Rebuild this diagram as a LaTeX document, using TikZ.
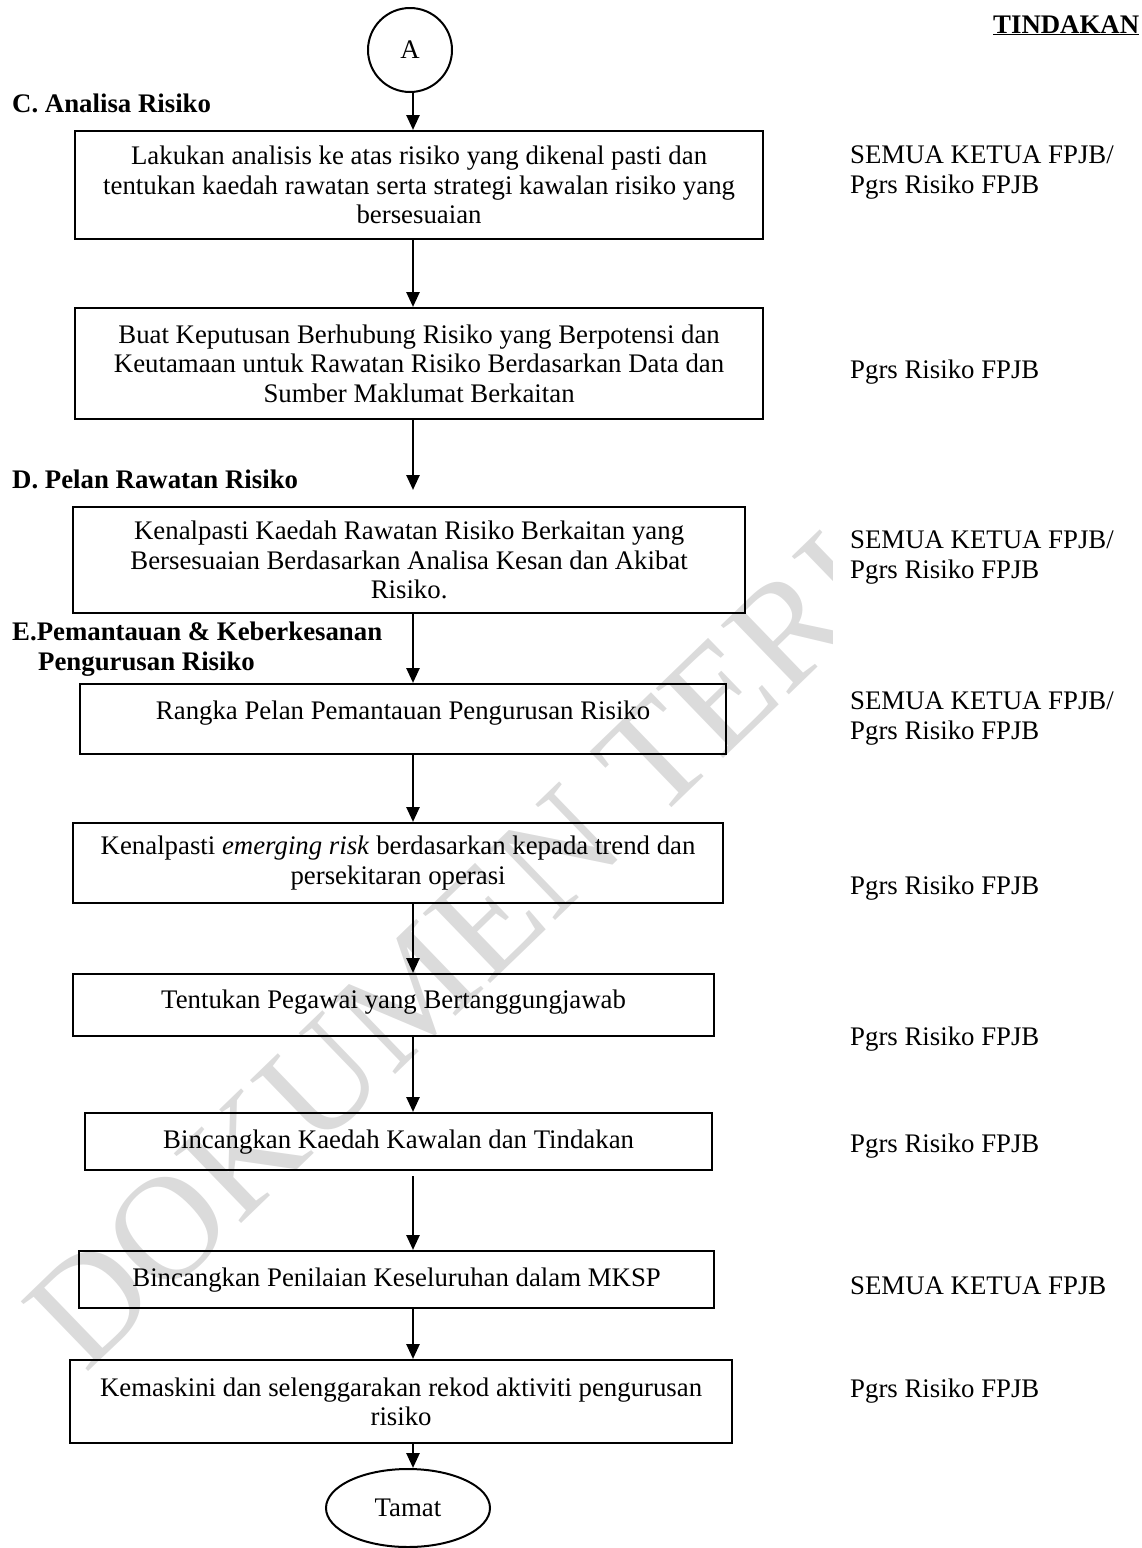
\documentclass[tikz,border=0pt]{standalone}
\usepackage{fontspec}
\setmainfont{Liberation Serif}
\usetikzlibrary{positioning,shapes.geometric,arrows.meta}

\begin{document}
\fontsize{26.8}{29.5}\selectfont
\begin{tikzpicture}[x=1pt, y=1pt,
  stepbox/.style={rectangle, draw, line width=2.2pt, anchor=north west, inner sep=0pt},
  steptext/.style={align=center, inner sep=0pt},
  flow/.style={-{Triangle[length=15pt,width=13pt]}, line width=2.6pt},
  heading/.style={anchor=base west, inner sep=0pt, font=\bfseries},
  actor/.style={anchor=base west, inner sep=0pt}]
\useasboundingbox (0,0) rectangle (1142,-1548);

% watermark
\begin{scope}
\clip (0,0) rectangle (832,-1548);
\node (mark) [anchor=base west, inner sep=0pt, rotate=44, text=black!14, font=\fontsize{148}{148}\selectfont] at (85,-1375) {DOKUMEN TERKAWAL};
\end{scope}

\node (tindakan) [heading] at (993,-33) {\underline{TINDAKAN}};

\node (circA) [circle, draw, line width=2pt, minimum size=84pt, inner sep=0pt] at (410,-50) {A};
\coordinate (axis) at (413,0);

\node (labC) [heading] at (12,-112) {C. Analisa Risiko};

\node (box1) [stepbox, minimum width=688pt, minimum height=108pt] at (74,-130) {};
\node (txt1) [steptext] at (box1.center) {Lakukan analisis ke atas risiko yang dikenal pasti dan\\tentukan kaedah rawatan serta strategi kawalan risiko yang\\bersesuaian};

\node (box2) [stepbox, minimum width=688pt, minimum height=111pt] at (74,-307) {};
\node (txt2) [steptext] at (box2.center) {Buat Keputusan Berhubung Risiko yang Berpotensi dan\\Keutamaan untuk Rawatan Risiko Berdasarkan Data dan\\Sumber Maklumat Berkaitan};

\node (labD) [heading] at (12,-488) {D. Pelan Rawatan Risiko};

\node (box3) [stepbox, minimum width=672pt, minimum height=106pt] at (72,-506) {};
\node (txt3) [steptext] at (box3.center) {Kenalpasti Kaedah Rawatan Risiko Berkaitan yang\\Bersesuaian Berdasarkan Analisa Kesan dan Akibat\\Risiko.};

\node (labE1) [heading] at (12,-640) {E.Pemantauan \& Keberkesanan};
\node (labE2) [heading] at (38,-670) {Pengurusan Risiko};

\node (box4) [stepbox, minimum width=646pt, minimum height=70pt] at (79,-683) {};
\node (txt4) [steptext, yshift=6pt] at (box4.center) {Rangka Pelan Pemantauan Pengurusan Risiko};

\node (box5) [stepbox, minimum width=650pt, minimum height=80pt] at (72,-822) {};
\node (txt5) [steptext] at (box5.center) {Kenalpasti \textit{emerging risk} berdasarkan kepada trend dan\\persekitaran operasi};

\node (box6) [stepbox, minimum width=641pt, minimum height=62pt] at (72,-973) {};
\node (txt6) [steptext, yshift=3pt] at (box6.center) {Tentukan Pegawai yang Bertanggungjawab};

\node (box7) [stepbox, minimum width=627pt, minimum height=57pt] at (84,-1112) {};
\node (txt7) [steptext] at (box7.center) {Bincangkan Kaedah Kawalan dan Tindakan};

\node (box8) [stepbox, minimum width=635pt, minimum height=57pt] at (78,-1250) {};
\node (txt8) [steptext] at (box8.center) {Bincangkan Penilaian Keseluruhan dalam MKSP};

\node (box9) [stepbox, minimum width=662pt, minimum height=83pt] at (69,-1359) {};
\node (txt9) [steptext] at (box9.center) {Kemaskini dan selenggarakan rekod aktiviti pengurusan\\risiko};

\node (tamat) [ellipse, draw, line width=2pt, minimum width=164pt, minimum height=78pt, inner sep=0pt] at (408,-1508) {Tamat};

% arrows
\draw[flow] (circA.south -| axis) -- (box1.north -| axis);
\draw[flow] (box1.south -| axis) -- (box2.north -| axis);
\draw[flow, shorten >=16pt] (box2.south -| axis) -- (box3.north -| axis);
\draw[flow] (box3.south -| axis) -- (box4.north -| axis);
\draw[flow] (box4.south -| axis) -- (box5.north -| axis);
\draw[flow] (box5.south -| axis) -- (box6.north -| axis);
\draw[flow] (box6.south -| axis) -- (box7.north -| axis);
\draw[flow, shorten <=5pt] (box7.south -| axis) -- (box8.north -| axis);
\draw[flow] (box8.south -| axis) -- (box9.north -| axis);
\draw[flow] (box9.south -| axis) -- (tamat.north -| axis);

% tindakan column
\node (act1a) [actor] at (850,-163) {SEMUA KETUA FPJB/};
\node (act1b) [actor] at (850,-193) {Pgrs Risiko FPJB};
\node (act2) [actor] at (850,-378) {Pgrs Risiko FPJB};
\node (act3a) [actor] at (850,-548) {SEMUA KETUA FPJB/};
\node (act3b) [actor] at (850,-578) {Pgrs Risiko FPJB};
\node (act4a) [actor] at (850,-709) {SEMUA KETUA FPJB/};
\node (act4b) [actor] at (850,-739) {Pgrs Risiko FPJB};
\node (act5) [actor] at (850,-894) {Pgrs Risiko FPJB};
\node (act6) [actor] at (850,-1045) {Pgrs Risiko FPJB};
\node (act7) [actor] at (850,-1152) {Pgrs Risiko FPJB};
\node (act8) [actor] at (850,-1294) {SEMUA KETUA FPJB};
\node (act9) [actor] at (850,-1397) {Pgrs Risiko FPJB};
\end{tikzpicture}
\end{document}
